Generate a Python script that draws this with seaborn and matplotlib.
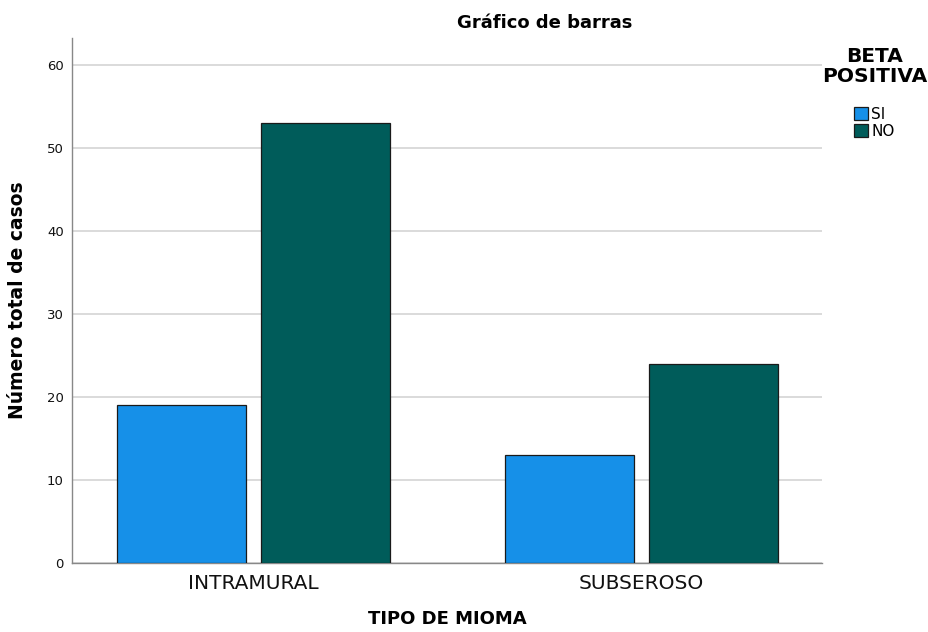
import pandas as pd
import seaborn as sns
import matplotlib.pyplot as plt

# data
CATEGORIES = ["INTRAMURAL", "SUBSEROSO"]
GROUPS = ["SI", "NO"]
SI_VALUES = [19, 13]
NO_VALUES = [53, 24]
Y_TICKS = [0, 10, 20, 30, 40, 50, 60]
COLORS = {"SI": "#1690e8", "NO": "#005c5a"}

df = pd.DataFrame({
    "tipo": CATEGORIES * 2,
    "beta": ["SI"] * len(CATEGORIES) + ["NO"] * len(CATEGORIES),
    "casos": SI_VALUES + NO_VALUES,
})

sns.set_style("white")
plt.rcParams["font.family"] = ["DejaVu Sans"]
plt.rcParams["text.color"] = "black"
plt.rcParams["axes.labelcolor"] = "black"

fig = plt.figure(figsize=(9.29, 6.32), dpi=100)
ax = fig.add_axes([72 / 929, 1 - 563 / 632, 750 / 929, 525 / 632])

sns.barplot(data=df, x="tipo", y="casos", hue="beta", hue_order=GROUPS,
            order=CATEGORIES, palette=COLORS, saturation=1, width=0.742, gap=0.104,
            edgecolor="#1a1a1a", linewidth=0.9, ax=ax, zorder=3, legend=False)

ax.set_ylim(0, 63.2)
ax.set_xlim(-0.468, 1.465)
ax.set_yticks(Y_TICKS)
ax.yaxis.grid(True, color="#d4d4d4", linewidth=1.2, zorder=0)
ax.set_axisbelow(True)
ax.tick_params(axis="y", length=0, labelsize=9.5, pad=6, labelcolor="#111111")
ax.tick_params(axis="x", length=0, labelsize=14.5, pad=8, labelcolor="#111111")
for s in ["top", "right"]:
    ax.spines[s].set_visible(False)
for s in ["left", "bottom"]:
    ax.spines[s].set_color("#888888")
    ax.spines[s].set_linewidth(1.0)

ax.set_xlabel("TIPO DE MIOMA", fontsize=13, fontweight="bold", labelpad=12)
ax.set_ylabel("Número total de casos", fontsize=13.5, fontweight="bold", labelpad=14)
fig.text(545 / 929, 1 - 23 / 632, "Gráfico de barras", fontsize=13,
         fontweight="bold", ha="center", va="center")

# legend title drawn on its own so it can sit centred above the entries
fig.text(875 / 929, 1 - 47 / 632, "BETA\nPOSITIVA", fontsize=14.5, fontweight="bold",
         ha="center", va="top", multialignment="center", linespacing=1.1)

handles = [plt.Rectangle((0, 0), 1, 1, facecolor=COLORS[g], edgecolor="#1a1a1a",
                         linewidth=0.9) for g in GROUPS]
leg = fig.legend(handles, GROUPS, loc="upper center",
                 bbox_to_anchor=(874 / 929, 1 - 107 / 632), frameon=False,
                 fontsize=11, handlelength=0.95, handleheight=0.95,
                 handletextpad=0.2, labelspacing=0.1, borderaxespad=0,
                 borderpad=0)

fig.savefig("out.png", dpi=100)
